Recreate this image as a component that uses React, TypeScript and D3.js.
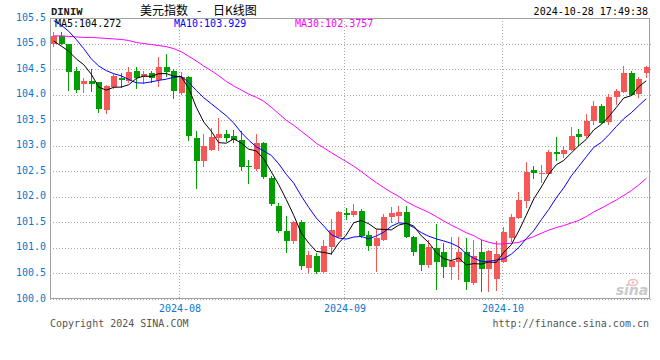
import React from "react";
import * as d3 from "d3";

// ---- data ----
const opens = [
  104.99, 105.14, 104.99, 104.47, 104.21, 104.26, 104.24, 103.70, 104.14, 104.32,
  104.26, 104.46, 104.35, 104.42, 104.29, 104.55, 104.46, 104.03, 104.34, 103.15,
  102.70, 102.92, 103.15, 103.22, 103.20, 103.12, 102.61, 102.55, 103.05, 102.37,
  101.83, 101.34, 101.13, 101.50, 100.61, 100.85, 100.52, 101.01, 101.21, 101.69,
  101.65, 101.73, 101.26, 101.03, 101.16, 101.61, 101.63, 101.70, 101.22, 101.07,
  100.66, 101.00, 100.92, 100.62, 100.73, 100.92, 100.31, 100.92, 100.58, 100.40,
  100.72, 101.19, 101.58, 101.91, 102.53, 102.46, 102.44, 102.87, 102.83, 102.92,
  103.22, 103.20, 103.49, 103.78, 103.46, 103.95, 104.05, 104.42, 104.02, 104.42,
];
const highs = [
  105.22, 105.22, 105.00, 104.55, 104.33, 104.50, 104.25, 104.18, 104.40, 104.42,
  104.54, 104.54, 104.46, 104.46, 104.73, 104.80, 104.50, 104.44, 104.36, 103.28,
  103.22, 103.35, 103.55, 103.30, 103.30, 103.28, 102.72, 103.22, 103.07, 102.40,
  101.88, 101.62, 101.52, 101.54, 100.94, 100.90, 101.16, 101.57, 101.72, 101.78,
  101.86, 101.76, 101.34, 101.37, 101.66, 101.80, 101.82, 101.83, 101.23, 101.08,
  101.15, 101.47, 101.09, 101.21, 101.21, 101.19, 101.16, 101.16, 100.96, 101.14,
  101.40, 101.67, 102.09, 102.68, 102.61, 102.63, 102.92, 103.18, 102.99, 103.36,
  103.33, 103.62, 103.88, 103.81, 104.01, 104.11, 104.57, 104.46, 104.34, 104.57,
];
const lows = [
  104.93, 104.97, 104.07, 104.03, 104.03, 104.05, 103.64, 103.62, 104.12, 104.13,
  104.22, 104.12, 104.20, 104.22, 104.14, 104.34, 103.92, 104.00, 103.09, 102.16,
  102.59, 102.89, 102.89, 103.07, 103.05, 102.51, 102.25, 102.51, 102.34, 101.83,
  101.30, 100.90, 101.07, 100.57, 100.50, 100.48, 100.50, 100.87, 101.19, 101.55,
  101.60, 101.20, 100.94, 100.52, 101.14, 101.49, 101.51, 101.20, 100.85, 100.54,
  100.60, 100.18, 100.41, 100.38, 100.38, 100.17, 100.28, 100.13, 100.13, 100.15,
  100.70, 101.12, 101.57, 101.78, 102.35, 102.27, 102.42, 102.70, 102.76, 102.90,
  103.00, 103.15, 103.40, 103.42, 103.40, 103.79, 104.03, 103.98, 103.94, 104.33,
];
const closes = [
  105.14, 104.99, 104.45, 104.09, 104.26, 104.21, 103.72, 104.16, 104.37, 104.28,
  104.44, 104.33, 104.40, 104.33, 104.55, 104.45, 104.08, 104.34, 103.20, 102.70,
  103.00, 103.18, 103.22, 103.15, 103.12, 102.59, 102.58, 103.05, 102.38, 101.85,
  101.33, 101.13, 101.50, 100.64, 100.87, 100.52, 101.03, 101.35, 101.71, 101.65,
  101.73, 101.24, 101.03, 101.20, 101.61, 101.68, 101.71, 101.22, 100.92, 100.66,
  101.01, 100.73, 100.62, 100.74, 100.92, 100.33, 100.85, 100.58, 100.94, 100.88,
  101.31, 101.60, 101.93, 102.48, 102.47, 102.47, 102.87, 102.84, 102.91, 103.20,
  103.18, 103.49, 103.77, 103.44, 103.96, 104.08, 104.42, 104.00, 104.31, 104.54,
];
// moving-average values at the start of the window (they depend on earlier days)
const ma5Lead = [105.05, 104.95, 104.85, 104.70];
const ma10Lead = [105.45, 105.36, 105.24, 105.08, 104.9, 104.7, 104.56, 104.47, 104.41];
const ma30Lead = [
  105.15, 105.15, 105.14, 105.13, 105.12, 105.12, 105.11, 105.1, 105.09, 105.08,
  105.06, 105.02, 105.0, 104.98, 104.96, 104.94, 104.9, 104.84, 104.75, 104.66,
  104.56, 104.47, 104.37, 104.26, 104.17, 104.09, 104.01, 103.95, 103.87,
];
const yTickLabels = ["100.0", "100.5", "101.0", "101.5", "102.0", "102.5", "103.0", "103.5", "104.0", "104.5", "105.0", "105.5"];
const monthLabels = ["2024-08", "2024-09", "2024-10"];
const legendNames = ["MA5", "MA10", "MA30"];
const legendValues = ["104.272", "103.929", "102.3757"];
const titleParts = ["美元指数", "-", "日K线图"];
const startDate = "2024-07-09";
const endDate = "2024-10-28";

// trading days (weekdays) for the category axis
const dates = d3
  .timeDay.range(new Date(startDate + "T00:00:00"), d3.timeDay.offset(new Date(endDate + "T00:00:00"), 1))
  .filter((d) => d.getDay() !== 0 && d.getDay() !== 6);
const fmtMonth = d3.timeFormat("%Y-%m");

function movingAvg(n: number, lead: number[]) {
  return closes.map((_, i) => {
    if (i < n - 1) return lead[i];
    return d3.mean(closes.slice(i - n + 1, i + 1)) as number;
  });
}

const RED = "#f65858";
const GREEN = "#009e00";
const MONO = "'DejaVu Sans Mono', 'Liberation Mono', monospace";
const AXIS_BLUE = "#0a78cc";

export default function App() {
  const left = 50, right = 650, top = 18, bottom = 298;
  const idx = d3.range(closes.length);
  const x = d3.scaleBand<number>().domain(idx).range([left, right]).padding(0);
  const cx = (i: number) => (x(i) as number) + x.bandwidth() / 2;
  const y = d3.scaleLinear().domain([100, 105.5]).range([299, 18]);

  const ma5 = movingAvg(5, ma5Lead);
  const ma10 = movingAvg(10, ma10Lead);
  const ma30 = movingAvg(30, ma30Lead);
  const line = d3
    .line<number>()
    .x((_, i) => cx(i))
    .y((d) => y(d))
    .curve(d3.curveLinear);

  // month ticks: first trading day of each month label
  const monthTicks = monthLabels.map((lab) => ({
    lab,
    i: dates.findIndex((d) => fmtMonth(d) === lab),
  }));

  const bodyW = 6;
  const legendX = [55, 174, 295];
  const legendColors = ["#000000", "#0000ff", "#ff00ff"];
  const CJK = "'Noto Sans CJK SC', sans-serif";

  return (
    <svg
      width={660}
      height={360}
      style={{ position: "absolute", left: 0, top: 0, background: "#fff" }}
      xmlns="http://www.w3.org/2000/svg"
    >
      <defs>
        <clipPath id="plot">
          <rect x={left} y={top} width={right - left} height={bottom - top + 2} />
        </clipPath>
      </defs>
      <rect x={0} y={0} width={660} height={360} fill="#fff" />

      {/* horizontal grid */}
      {yTickLabels.map((t) => {
        const v = +t;
        const yy = Math.round(y(v)) + 0.5;
        if (v >= 105.5) return null;
        return (
          <line key={t} x1={left} x2={right + 1} y1={yy} y2={yy} stroke="#a8a8a8" strokeDasharray="1,2" shapeRendering="crispEdges" />
        );
      })}
      {/* vertical grid */}
      {monthTicks.map((m) => {
        const xx = Math.round(cx(m.i)) - 1.5;
        return (
          <line key={m.lab} x1={xx} x2={xx} y1={top} y2={bottom} stroke="#a8a8a8" strokeDasharray="1,2" shapeRendering="crispEdges" />
        );
      })}

      {/* frame */}
      <rect x={left + 0.5} y={top + 0.5} width={right - left - 1} height={bottom - top - 0.5} fill="none" stroke="#a0a0a0" shapeRendering="crispEdges" />

      {/* watermark */}
      <g opacity={0.9}>
        <ellipse cx={633} cy={282.5} rx={4.5} ry={3} fill="none" stroke="#f4b4b4" strokeWidth={1.5} />
        <circle cx={633} cy={282.5} r={1.2} fill="#f4b4b4" />
        <text x={632} y={295} textAnchor="middle" fontFamily="'DejaVu Sans', sans-serif" fontStyle="italic" fontWeight="bold" fontSize={14} fill="#c4c4c4">
          sina
        </text>
      </g>

      {/* candles */}
      <g clipPath="url(#plot)">
        {idx.map((i) => {
          const o = opens[i], c = closes[i];
          const up = c >= o;
          const col = up ? RED : GREEN;
          const xc = Math.floor(cx(i)) + 0.5;
          const yTop = Math.round(y(Math.max(o, c)));
          const yBot = Math.round(y(Math.min(o, c)));
          const h = Math.max(1, yBot - yTop);
          return (
            <g key={i} shapeRendering="crispEdges">
              <line x1={xc} x2={xc} y1={Math.round(y(highs[i]))} y2={Math.round(y(lows[i]))} stroke={col} />
              <rect x={Math.floor(cx(i)) - bodyW / 2 + 0.5} y={yTop} width={bodyW} height={h} fill={col} />
            </g>
          );
        })}
        <path d={line(ma30) as string} fill="none" stroke="#ff00ff" strokeWidth={1} />
        <path d={line(ma10) as string} fill="none" stroke="#0000ff" strokeWidth={1} />
        <path d={line(ma5) as string} fill="none" stroke="#000000" strokeWidth={1} />
      </g>

      {/* y axis labels */}
      {yTickLabels.map((t) => (
        <text key={t} x={46} y={y(+t) - 1} dy="0.35em" textAnchor="end" fontFamily={MONO} fontSize={10} fill={AXIS_BLUE}>
          {t}
        </text>
      ))}
      {/* x axis labels */}
      {monthTicks.map((m) => (
        <text key={m.lab} x={Math.round(cx(m.i)) - 1} y={312} textAnchor="middle" fontFamily={MONO} fontSize={10} fill={AXIS_BLUE}>
          {m.lab}
        </text>
      ))}

      {/* header */}
      <text x={51} y={15} fontFamily="'Liberation Mono', monospace" fontWeight="bold" fontSize={10.5} fill="#222">
        DINIW
      </text>
      <text x={140} y={15} fontFamily={CJK} fontSize={12} fill="#000">
        {titleParts[0]}
      </text>
      <text x={199} y={15} textAnchor="middle" fontFamily={CJK} fontSize={12} fill="#000">
        {titleParts[1]}
      </text>
      <text x={213} y={15} fontFamily={CJK} fontSize={12} fill="#000">
        {titleParts[2]}
      </text>
      <text x={648} y={15} textAnchor="end" fontFamily={MONO} fontSize={10} fill="#000">
        {endDate + " 17:49:38"}
      </text>

      {/* MA legend */}
      {legendNames.map((n, k) => (
        <text key={n} x={legendX[k]} y={27} fontFamily={MONO} fontSize={10} fill={legendColors[k]}>
          {n + ":" + legendValues[k]}
        </text>
      ))}

      {/* footer */}
      <text x={50} y={327} fontFamily={MONO} fontSize={10} fill="#555">
        Copyright 2024 SINA.COM
      </text>
      <text x={649} y={327} textAnchor="end" fontFamily={MONO} fontSize={10} fill="#555">
        http://finance.sina.com.cn
      </text>
    </svg>
  );
}
